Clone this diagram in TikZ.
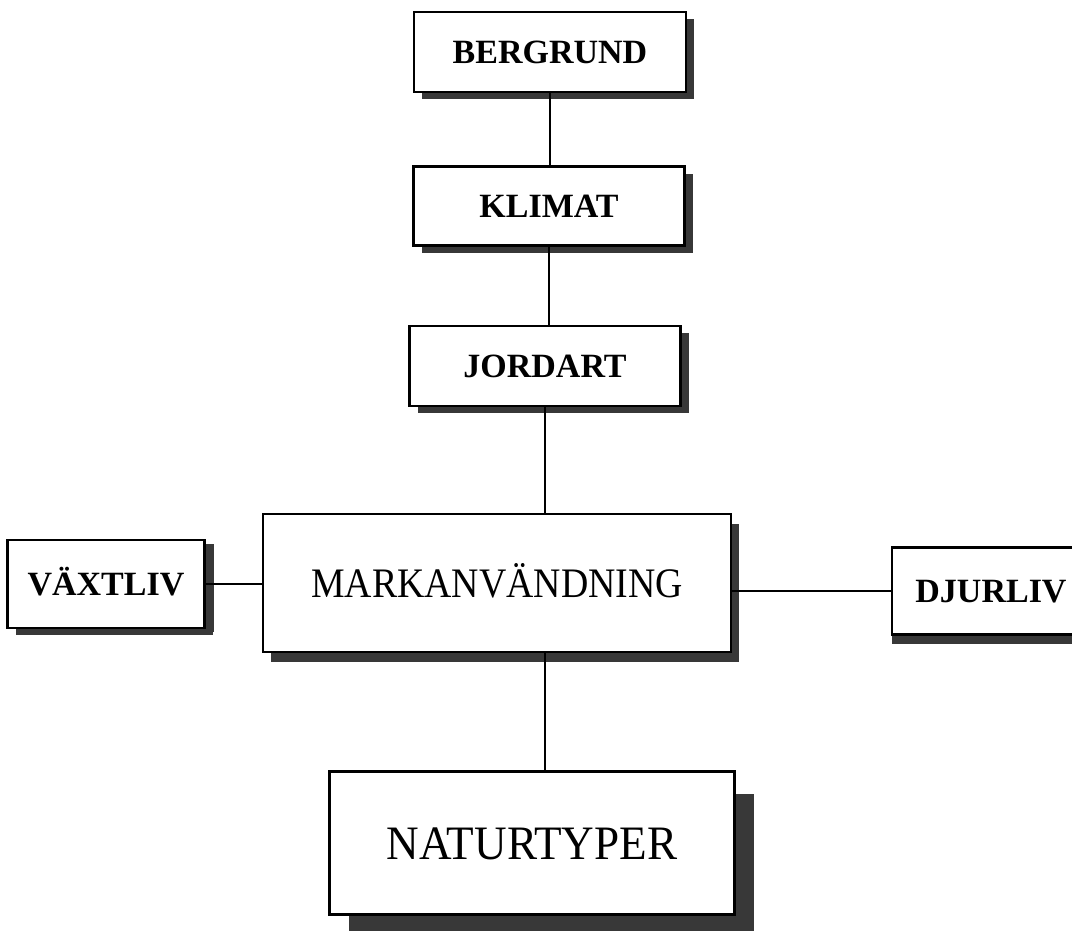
\documentclass[tikz,border=0pt]{standalone}
\usepackage{fontspec}
\usepackage{graphicx}
\setmainfont{Liberation Serif}
\usetikzlibrary{shadows}
\begin{document}
\begin{tikzpicture}[x=1pt,y=-1pt,
  box/.style={draw, line width=2.8pt, fill=white, inner sep=0pt, rectangle},
  shad/.style 2 args={drop shadow={shadow xshift=#1, shadow yshift=#2, fill=black!78, opacity=1}},
  smallbox/.style={box, shad={8pt}{-7pt}, font=\fontsize{34}{34}\selectfont\bfseries, text height=23pt, text depth=0pt},
  conn/.style={line width=2.2pt}]
\useasboundingbox (0,0) rectangle (1072,930);
\clip (0,0) rectangle (1072,930);
\node[smallbox, minimum width=272pt, minimum height=80pt] (berg) at (550,52) {BERGRUND};
\node[smallbox, minimum width=271pt, minimum height=79pt] (klim) at (549,206) {KLIMAT};
\node[smallbox, minimum width=271pt, minimum height=80pt] (jord) at (545,366) {JORDART};
\node[box, shad={8pt}{-10pt}, minimum width=468pt, minimum height=138pt, text height=28pt, text depth=0pt,
      font=\fontsize{42}{42}\selectfont] (mark) at (497,583) {\scalebox{0.9}[1]{MARKANVÄNDNING}};
\node[smallbox, shad={9pt}{-4pt}, minimum width=197pt, minimum height=88pt] (vaxt) at (106,584) {VÄXTLIV};
\node[smallbox, shad={0pt}{-9pt}, minimum width=198pt, minimum height=87pt] (djur) at (991,591) {DJURLIV};
\node[box, shad={19pt}{-22pt}, minimum width=405pt, minimum height=143pt, text height=32pt, text depth=0pt,
      font=\fontsize{48}{48}\selectfont] (naty) at (532,843) {\scalebox{0.94}[1]{NATURTYPER}};
\draw[conn] (berg.south) -- (berg.south |- klim.north);
\draw[conn] (klim.south) -- (klim.south |- jord.north);
\draw[conn] (jord.south) -- (jord.south |- mark.north);
\draw[conn] (jord.south |- mark.south) -- (jord.south |- naty.north);
\draw[conn] (vaxt.east) -- (vaxt.east -| mark.west);
\draw[conn] (mark.east |- djur.west) -- (djur.west);
\end{tikzpicture}
\end{document}
